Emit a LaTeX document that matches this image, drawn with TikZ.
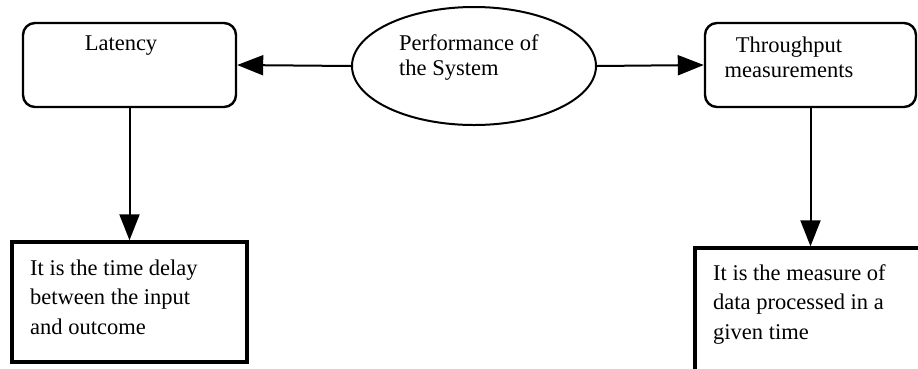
\documentclass[tikz,border=0pt]{standalone}
\usepackage{fontspec}
\setmainfont{Liberation Serif}
\usetikzlibrary{shapes.geometric,arrows.meta}
\begin{document}
\begin{tikzpicture}[x=1pt,y=-1pt,
  rbox/.style={draw, line width=2.4pt, rounded corners=12pt, inner sep=0pt},
  sbox/.style={draw, line width=3.4pt, inner sep=0pt},
  ovalbox/.style={draw, ellipse, line width=2pt, inner sep=0pt},
  conn/.style={line width=2pt, -{Triangle[length=26pt,width=20pt]}},
  lbl/.style={inner sep=0pt, font=\fontsize{22.5pt}{25pt}\selectfont},
  lblb/.style={inner sep=0pt, align=left, font=\fontsize{22.5pt}{29.5pt}\selectfont}]
\useasboundingbox (0,0) rectangle (918,368);
\clip (0,0) rectangle (918,368);
% shapes
\node[rbox, minimum width=213pt, minimum height=84pt] (lat) at (129.5,65) {};
\node[ovalbox, minimum width=244pt, minimum height=118pt] (perf) at (474,66) {};
\node[rbox, minimum width=211pt, minimum height=84pt] (thr) at (810.5,65) {};
\node[sbox, minimum width=235pt, minimum height=120pt] (bl) at (129.5,302) {};
\node[sbox, minimum width=235pt, minimum height=124pt] (br) at (812.5,310) {};
% texts
\node[lbl] (latt) at (121,46) {Latency};
\node[lbl, anchor=west, align=left] (perft) at (399,57.5) {Performance of\\the System};
\node[lbl, align=center] (thrt) at (789,57.5) {Throughput\\measurements};
\node[lblb, anchor=west] (blt) at (30,297) {It is the time delay\\between the input\\and outcome};
\node[lblb, anchor=west] (brt) at (713,304) {It is the measure of\\data processed in a\\given time};
% connectors
\draw[conn] (perf.west) -- (lat.east);
\draw[conn] (perf.east) -- (thr.west);
\draw[conn] (lat.south -| bl.north) -- (bl.north);
\draw[conn] (thr.south) -- (thr.south |- br.north);
\end{tikzpicture}
\end{document}
